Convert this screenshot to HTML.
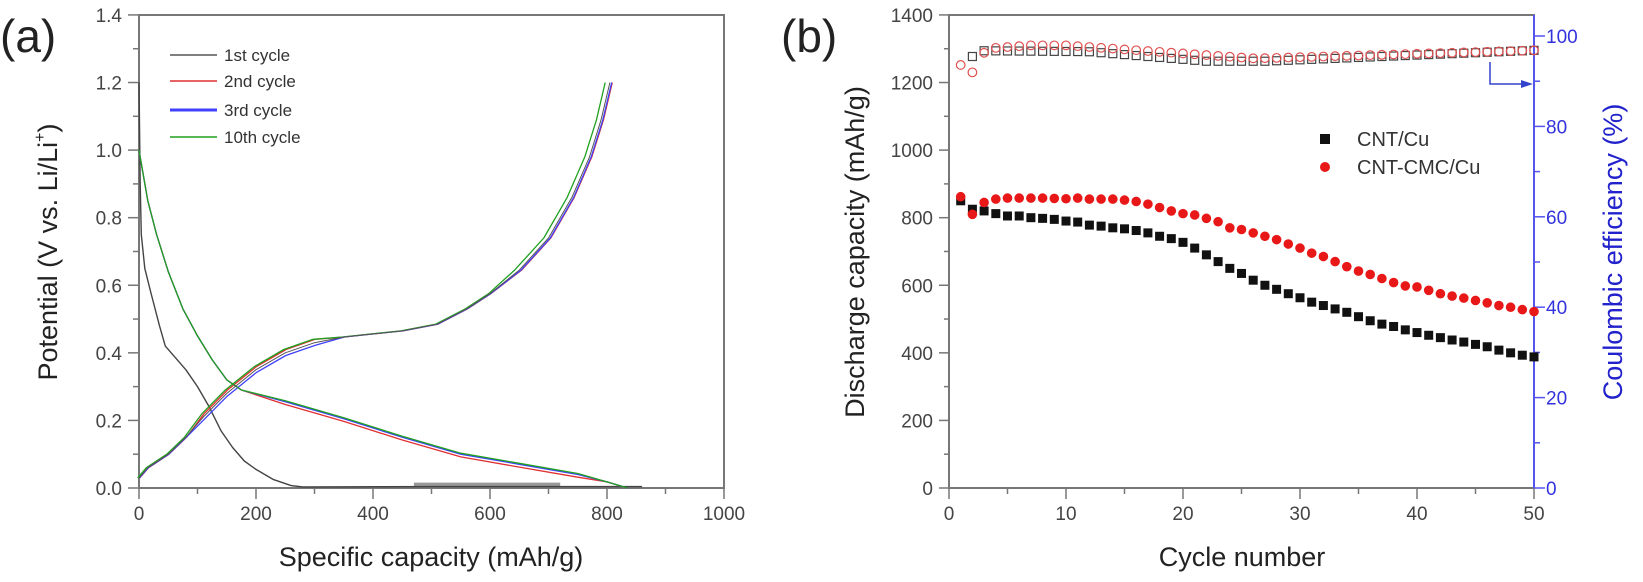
<!DOCTYPE html>
<html><head><meta charset="utf-8"><style>
html,body{margin:0;padding:0;background:#fff;}
svg{display:block;font-family:"Liberation Sans",Arial,sans-serif;}
</style></head><body>
<svg id="s" width="1643" height="582" viewBox="0 0 1643 582" xmlns="http://www.w3.org/2000/svg">
<rect width="1643" height="582" fill="#fff"/>
<text x="0" y="52" font-size="46" fill="#222">(a)</text>
<text x="781" y="52" font-size="46" fill="#222">(b)</text>
<g id="a"></g><g id="b"></g>
</svg>
<script>
const NS="http://www.w3.org/2000/svg";
function el(p,t,a,txt){const e=document.createElementNS(NS,t);for(const k in a)e.setAttribute(k,a[k]);if(txt!==undefined)e.textContent=txt;p.appendChild(e);return e;}
const A=document.getElementById('a'),B=document.getElementById('b');
// Panel a
const ax=x=>139+x*0.585, ay=v=>488-v*337.9;
el(A,'rect',{x:139,y:15,width:585,height:473,fill:'none',stroke:'#777','stroke-width':2});
for(let i=0;i<=14;i++){const y=ay(i*0.1);el(A,'line',{x1:i%2?133:128,x2:139,y1:y,y2:y,stroke:'#777','stroke-width':1.5});
 if(i%2==0)el(A,'text',{x:122,y:y+7,'font-size':19,'text-anchor':'end',fill:'#444'},(i/10).toFixed(1));}
for(let i=0;i<=10;i++){const x=ax(i*100);el(A,'line',{x1:x,x2:x,y1:488,y2:i%2?494:499,stroke:'#777','stroke-width':1.5});
 if(i%2==0)el(A,'text',{x:x,y:520,'font-size':19,'text-anchor':'middle',fill:'#444'},String(i*100));}
el(A,'text',{x:431,y:566,'font-size':27,'text-anchor':'middle',fill:'#222'},'Specific capacity (mAh/g)');
const yt=el(A,'text',{transform:'translate(57,252) rotate(-90)','font-size':27,'text-anchor':'middle',fill:'#222'},'Potential (V vs. Li/Li');
el(yt,'tspan',{'font-size':16,dy:-12},'+');el(yt,'tspan',{dy:12},')');
function path(g,pts,col,w,dx,dy){let d='';pts.forEach((p,i)=>{d+=(i?'L':'M')+ax(p[0]+(dx||0)).toFixed(1)+','+ay(p[1]+(dy||0)).toFixed(1);});el(g,'path',{d:d,fill:'none',stroke:col,'stroke-width':w||1.3,'stroke-linejoin':'round'});}
path(A,[[470,0.01],[720,0.01]],'#999',4);
path(A,[[0,1.2],[2,0.9],[4,0.75],[10,0.65],[20,0.58],[35,0.48],[45,0.42],[60,0.39],[80,0.35],[100,0.3],[120,0.24],[140,0.17],[160,0.12],[180,0.08],[200,0.055],[230,0.025],[260,0.007],[280,0.003],[500,0.004],[860,0.004]],'#444',1.4);
const dis=[[0,1.0],[5,0.95],[15,0.85],[30,0.75],[50,0.64],[75,0.53],[100,0.45],[125,0.38],[150,0.32],[175,0.29],[250,0.255],[350,0.205],[450,0.15],[550,0.1],[650,0.07],[750,0.04],[800,0.018],[835,0]];
const chg=[[0,0.03],[15,0.06],[50,0.1],[80,0.15],[110,0.21],[150,0.28],[200,0.35],[250,0.4],[300,0.43],[350,0.447],[400,0.456],[450,0.465],[510,0.485],[560,0.53],[600,0.575],[650,0.645],[700,0.74],[740,0.86],[770,0.98],[790,1.09],[805,1.2]];
const cols=[['#e03030',-0.008,4,0.01],['#4040ff',0,3,-0.008],['#20a020',0.003,-8,0.01]];
cols.forEach(c=>{path(A,dis.map(p=>[p[0],p[1]+(p[0]>200&&p[0]<780?c[1]:0)]),c[0]);path(A,chg.map(p=>[p[0]+c[2]*(p[1]>0.6?1:0.3),p[1]+(p[0]>100&&p[0]<350?c[3]:0)]),c[0]);});
path(A,chg,'#555',1);
const lg=[['1st cycle','#555',55],['2nd cycle','#e03030',81],['3rd cycle','#4040ff',110],['10th cycle','#20a020',137]];
lg.forEach(l=>{el(A,'line',{x1:170,x2:217,y1:l[2],y2:l[2],stroke:l[1],'stroke-width':l[0]=='3rd cycle'?3:1.5});el(A,'text',{x:224,y:l[2]+6,'font-size':17,fill:'#333'},l[0]);});
// Panel b
const bx=c=>949+c*11.7, by=v=>488-v*0.3379, bce=v=>488-v*4.52;
el(B,'rect',{x:949,y:15,width:585,height:473,fill:'none',stroke:'#777','stroke-width':2});
el(B,'line',{x1:1534,x2:1534,y1:15,y2:488,stroke:'#5555ee','stroke-width':2});
for(let i=0;i<=14;i++){const y=by(i*100);el(B,'line',{x1:i%2?944:939,x2:949,y1:y,y2:y,stroke:'#777','stroke-width':1.5});
 if(i%2==0)el(B,'text',{x:933,y:y+7,'font-size':19,'text-anchor':'end',fill:'#444'},String(i*100));}
for(let i=0;i<=10;i++){const x=bx(i*5);el(B,'line',{x1:x,x2:x,y1:488,y2:i%2?494:499,stroke:'#777','stroke-width':1.5});
 if(i%2==0)el(B,'text',{x:x,y:520,'font-size':19,'text-anchor':'middle',fill:'#444'},String(i*5));}
for(let i=0;i<=10;i++){const y=bce(i*10);el(B,'line',{x1:1534,x2:i%2?1540:1545,y1:y,y2:y,stroke:'#5555ee','stroke-width':1.5});
 if(i%2==0)el(B,'text',{x:1546,y:y+7,'font-size':19,fill:'#3333dd'},String(i*10));}
el(B,'text',{x:1242,y:566,'font-size':27,'text-anchor':'middle',fill:'#222'},'Cycle number');
el(B,'text',{transform:'translate(864,252) rotate(-90)','font-size':27,'text-anchor':'middle',fill:'#222'},'Discharge capacity (mAh/g)');
el(B,'text',{transform:'translate(1622,252) rotate(-90)','font-size':27,'text-anchor':'middle',fill:'#2222cc'},'Coulombic efficiency (%)');
const cnt=[850,825,820,812,805,805,800,798,795,790,787,778,775,770,767,762,755,745,738,727,710,690,670,650,635,615,600,588,575,563,550,540,530,520,507,495,485,478,468,460,452,445,438,432,425,418,408,400,393,388];
const cmc=[862,810,845,855,858,858,858,858,857,856,858,855,855,855,852,848,840,830,820,812,808,798,788,770,765,755,745,735,722,710,695,685,670,655,642,632,620,608,598,595,585,575,568,562,555,548,540,535,528,522];
function ceB(c){if(c<3)return 1277;if(c<12)return 1294-(c-3)*0.3;if(c<22)return 1291-(c-12)*2.8;if(c<27)return 1263;return 1263+(c-27)*1.4;}
function ceR(c){if(c==1)return 1252;if(c==2)return 1230;if(c==3)return 1288;if(c<11)return 1300+Math.min(c-3,4)*2.5;if(c<27)return 1310-(c-10)*2.4;return Math.min(1272+(c-27)*1.0,1296);}
for(let c=2;c<=50;c++){el(B,'rect',{x:bx(c)-4,y:by(ceB(c))-4,width:8,height:8,fill:'none',stroke:'#444','stroke-width':1.2});}
for(let c=1;c<=50;c++){el(B,'circle',{cx:bx(c),cy:by(ceR(c)),r:4.3,fill:'none',stroke:'#e05050','stroke-width':1.2});}
cnt.forEach((v,i)=>el(B,'rect',{x:bx(i+1)-4.5,y:by(v)-4.5,width:9,height:9,fill:'#111'}));
cmc.forEach((v,i)=>el(B,'circle',{cx:bx(i+1),cy:by(v),r:4.8,fill:'#e81818'}));
el(B,'path',{d:'M1490,62 L1490,84 L1526,84',fill:'none',stroke:'#3344cc','stroke-width':1.5});
el(B,'path',{d:'M1533,84 L1521,80 L1521,88 Z',fill:'#3344cc'});
el(B,'rect',{x:1320,y:134,width:10,height:10,fill:'#111'});
el(B,'circle',{cx:1325,cy:167,r:5,fill:'#e81818'});
el(B,'text',{x:1357,y:146,'font-size':20,fill:'#333'},'CNT/Cu');
el(B,'text',{x:1357,y:174,'font-size':20,fill:'#333'},'CNT-CMC/Cu');
</script>
</body></html>
